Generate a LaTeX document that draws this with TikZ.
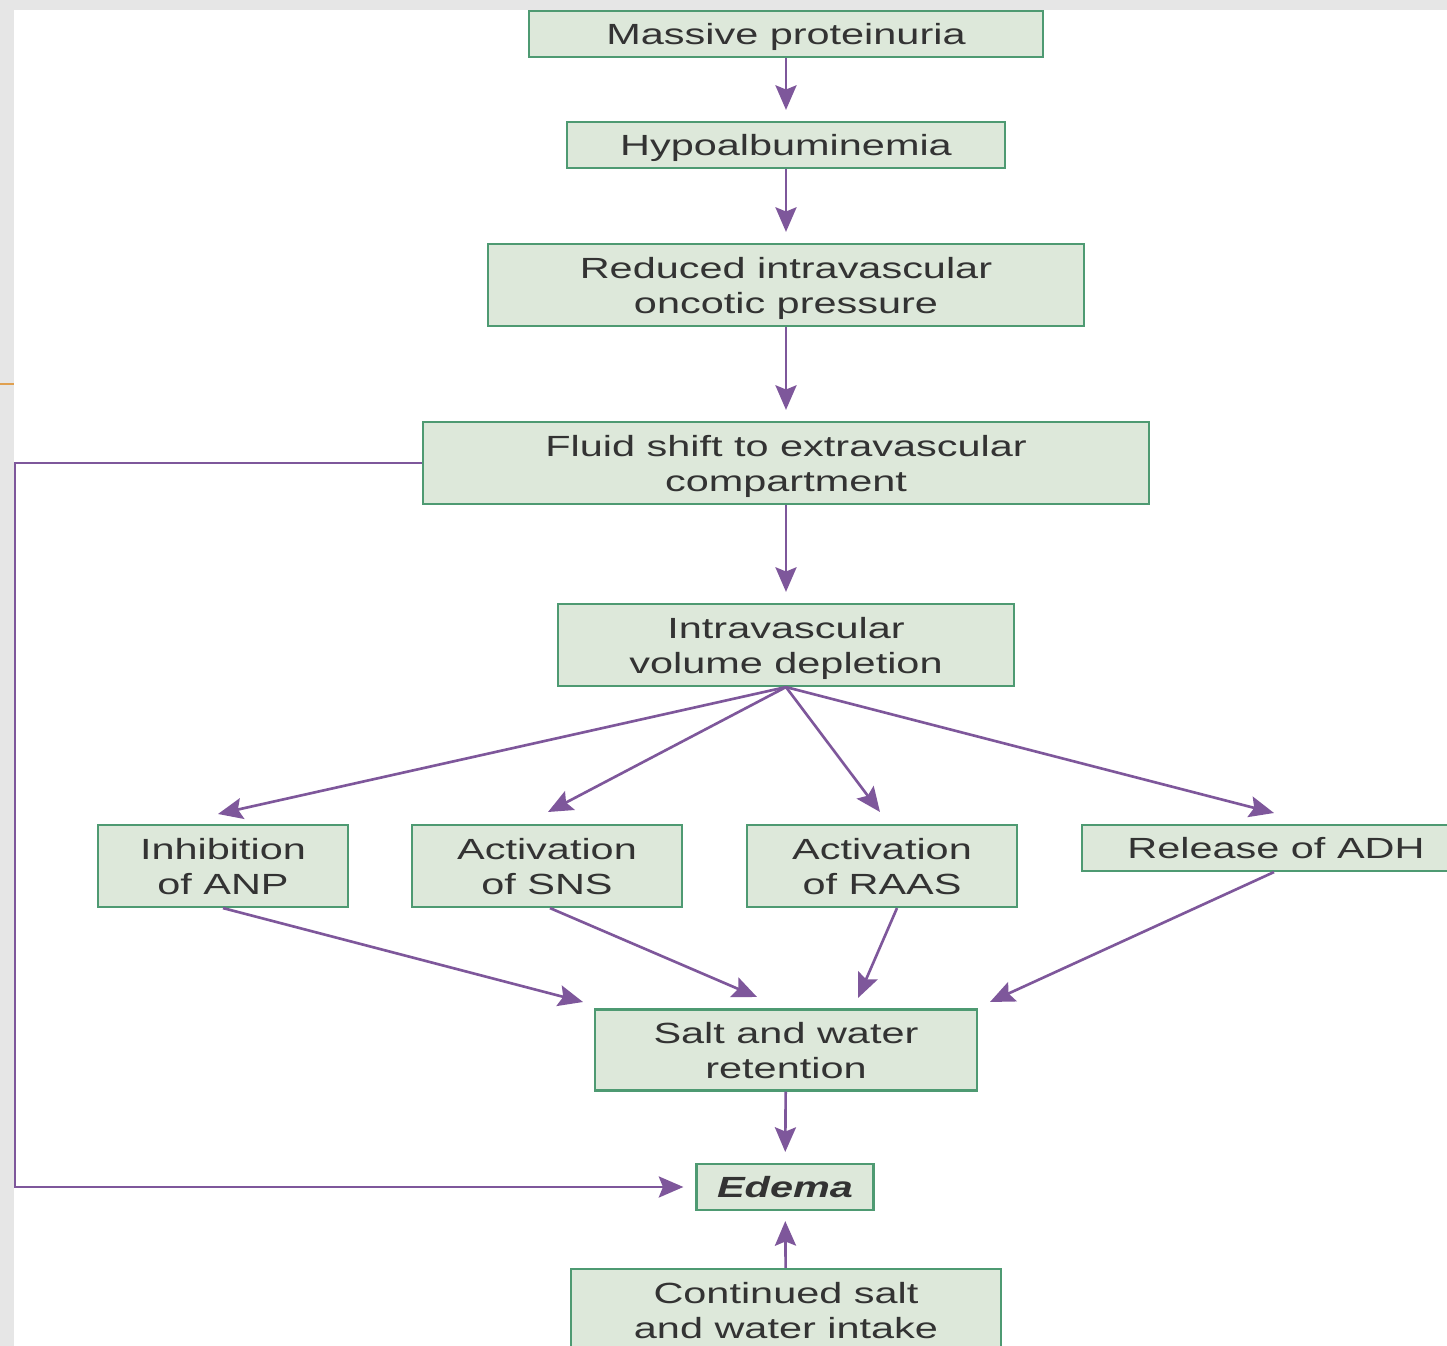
\documentclass[tikz,border=0pt]{standalone}
\usepackage{fontspec}
\setmainfont{Liberation Sans}
\usepackage{graphicx}
\usetikzlibrary{arrows.meta}
\definecolor{edfill}{HTML}{DDE8DA}
\definecolor{edgreen}{HTML}{4E9A72}
\definecolor{edpurple}{HTML}{7E579B}
\definecolor{edtext}{HTML}{333333}
\definecolor{edback}{HTML}{E6E6E6}
\definecolor{edorange}{HTML}{E0A050}
\newcommand{\wtxt}[1]{\raisebox{-1.1pt}[\height][\depth]{\scalebox{1.42}[1]{\begin{tabular}{@{}c@{}}#1\end{tabular}}}}

\begin{document}
\begin{tikzpicture}[x=0.01cm,y=-0.01cm,
  font=\fontsize{8.3pt}{10pt}\selectfont,
  >={Stealth[length=7pt,width=6pt,inset=1.2pt]},
  box/.style={draw=edgreen,fill=edfill,line width=0.6pt,text=edtext,inner sep=0pt},
  flow/.style={->,edpurple,line width=0.75pt}]
  \useasboundingbox (0,0) rectangle (1447,1346);
  \fill[edback] (0,0) rectangle (1447,1346);
  \fill[white] (14,10) rectangle (1447,1346);
  \draw[edorange,line width=0.8pt] (0,384) -- (14,384);

  % main column
  \node[box,minimum width=5.14cm,minimum height=0.46cm] (mp) at (786,34) {\wtxt{Massive proteinuria}};
  \node[box,minimum width=4.37cm,minimum height=0.46cm] (hypo) at (786,145) {\wtxt{Hypoalbuminemia}};
  \node[box,minimum width=5.96cm,minimum height=0.82cm] (onc) at (786,285) {\wtxt{Reduced intravascular\\oncotic pressure}};
  \node[box,minimum width=7.26cm,minimum height=0.82cm] (shift) at (786,463) {\wtxt{Fluid shift to extravascular\\compartment}};
  \node[box,minimum width=4.55cm,minimum height=0.82cm] (ivd) at (786,645) {\wtxt{Intravascular\\volume depletion}};
  \node[box,minimum width=3.81cm,minimum height=0.81cm] (sw) at (786,1050) {\wtxt{Salt and water\\retention}};
  \node[box,minimum width=1.77cm,minimum height=0.46cm] (edema) at (785,1187) {\wtxt{\textbf{\textit{Edema}}}};
  \node[box,minimum width=4.29cm,minimum height=0.82cm] (cont) at (786,1310) {\wtxt{Continued salt\\and water intake}};

  % the four responses
  \foreach \n/\x/\w/\t in {anp/223/2.50/{Inhibition\\of ANP},
    sns/547/2.70/{Activation\\of SNS},
    raas/882/2.70/{Activation\\of RAAS}}
    \node[box,minimum width=\w cm,minimum height=0.82cm] (\n) at (\x,866) {\wtxt{\t}};
  \node[box,minimum width=3.88cm,minimum height=0.46cm] (adh) at (1276,848) {\wtxt{Release of ADH}};

  \foreach \a/\b in {mp/hypo,hypo/onc,onc/shift,shift/ivd,sw/edema}
    \draw[flow,shorten >=0.11cm] (\a) -- (\b);
  \draw[flow,shorten >=0.1cm] (cont) -- (edema);

  \foreach \n/\tx/\ty in {anp/218/814,sns/548/812,raas/880/812,adh/1274/813}
  {
    \coordinate (in-\n) at (\tx,\ty);
    \draw[flow] (ivd.south) -- (in-\n);
  }
  \foreach \n/\s/\tx/\ty in {anp/0/583/1002,sns/3/757/997,raas/15/858/998,adh/-2/990/1002}
  {
    \coordinate (out-\n) at (\tx,\ty);
    \draw[flow] ([xshift=\s*0.01cm]\n.south) -- (out-\n);
  }

  % loop back to edema
  \coordinate (lp) at (15,463);
  \draw[flow,shorten >=0.12cm] (shift.west) -- (lp) |- (edema.west);
\end{tikzpicture}
\end{document}
